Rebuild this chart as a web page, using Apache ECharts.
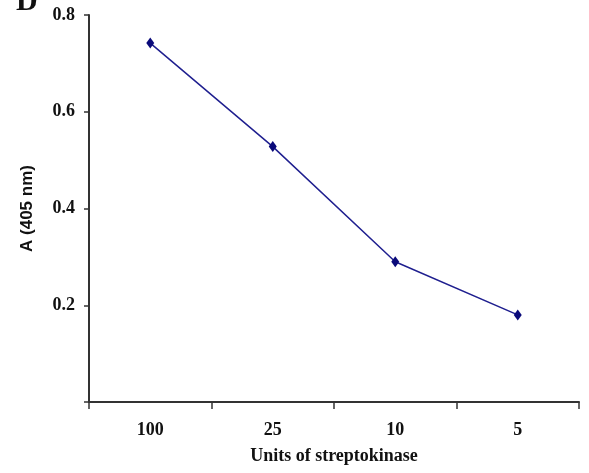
<!DOCTYPE html>
<html>
<head>
<meta charset="utf-8">
<script src="https://cdn.jsdelivr.net/npm/echarts@6/dist/echarts.min.js"></script>
<style>
  html, body { margin: 0; padding: 0; background: #fff; }
  #chart { width: 589px; height: 473px; }
</style>
</head>
<body>
<div id="chart"></div>
<script>
// data
const units = ['100', '25', '10', '5'];
const absorbance = [0.742, 0.528, 0.290, 0.180];
const yTicks = [0, 0.2, 0.4, 0.6, 0.8];

const serif = '"Liberation Serif", "Times New Roman", serif';
const axisColor = '#333';
const lineColor = '#1f1f8f';

const chart = echarts.init(document.getElementById('chart'));

chart.setOption({
  animation: false,
  backgroundColor: '#fff',
  graphic: [{
    type: 'text',
    left: 16,
    top: -13,
    style: { text: 'D', font: 'bold 30px ' + serif, fill: '#111' }
  }],
  grid: { left: 89, right: 10, top: 15, bottom: 71, containLabel: false },
  xAxis: {
    type: 'category',
    data: units,
    boundaryGap: true,
    name: 'Units of streptokinase',
    nameLocation: 'middle',
    nameGap: 45,
    nameTextStyle: { fontFamily: serif, fontWeight: 'bold', fontSize: 18, color: '#111' },
    axisLine: { lineStyle: { color: axisColor, width: 2 } },
    axisTick: { show: true, alignWithLabel: false, length: 7, lineStyle: { color: axisColor, width: 1.5 } },
    axisLabel: { fontFamily: serif, fontWeight: 'bold', fontSize: 18, color: '#111', margin: 19 },
    splitLine: { show: false }
  },
  yAxis: {
    type: 'value',
    min: yTicks[0],
    max: yTicks[yTicks.length - 1],
    interval: 0.2,
    name: 'A (405 nm)',
    nameLocation: 'middle',
    nameRotate: 90,
    nameGap: 53,
    nameTextStyle: { fontFamily: '"Liberation Sans", Arial, sans-serif', fontWeight: 'bold', fontSize: 17, color: '#111' },
    axisLine: { show: true, lineStyle: { color: axisColor, width: 2 } },
    axisTick: { show: true, length: 5, lineStyle: { color: axisColor, width: 1.5 } },
    axisLabel: {
      fontFamily: serif, fontWeight: 'bold', fontSize: 18, color: '#111', margin: 14,
      formatter: v => (v === 0 ? '' : v.toFixed(1))
    },
    splitLine: { show: false }
  },
  series: [{
    type: 'line',
    data: absorbance,
    symbol: 'diamond',
    symbolSize: [8, 11],
    lineStyle: { color: lineColor, width: 1.5 },
    itemStyle: { color: '#0a0a7a' }
  }]
});
</script>
</body>
</html>
